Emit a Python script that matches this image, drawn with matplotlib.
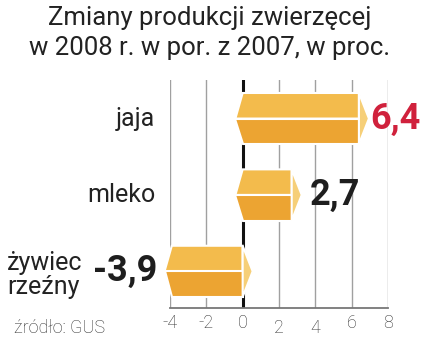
import matplotlib
matplotlib.use("Agg")
import matplotlib.pyplot as plt
from matplotlib.patches import Polygon
from matplotlib.transforms import blended_transform_factory

plt.rcParams["font.family"] = ["Roboto", "DejaVu Sans"]

# Données
kategorie = ["jaja", "mleko", "żywiec\nrzeźny"]
zmiany = [6.4, 2.7, -3.9]
etykiety = ["6,4", "2,7", "-3,9"]
kolory_etykiet = ["#d0213c", "#1e1e1e", "#1e1e1e"]
ticki = [-4, -2, 0, 2, 4, 6, 8]

GORA = "#f3bb4c"
DOL = "#eca432"
CZOLO = "#f6cf78"
SIATKA = "#a0a0a0"
TEKST = "#222222"

W, H = 426, 352
fig = plt.figure(figsize=(W / 100, H / 100), dpi=100, facecolor="white")

# osie w pikselach: x od -4 (170 px) do 8 (388 px), y od 80 do 308 px
x0, x1, y_top, y_bot = 170, 388, 80, 308
ax = fig.add_axes([x0 / W, 1 - y_bot / H, (x1 - x0) / W, (y_bot - y_top) / H])
ax.set_xlim(-4, 8)
ax.set_ylim(2.48, -0.505)
ax.axis("off")

# siatka
for t in ticki:
    if t == 0:
        continue
    ax.plot([t, t], [2.48, -0.505], color=SIATKA, lw=1, zorder=1)
ax.plot([0, 0], [2.48, -0.505], color="#111111", lw=2.2, zorder=1)
ax.plot([-4, 8], [2.48, 2.48], color="#777777", lw=1.3, zorder=1, clip_on=False)

# słupki "pryzmatyczne"
h = 0.335
dl = 0.4
cap = 0.55
for i, v in enumerate(zmiany):
    left, right = min(0, v), max(0, v)
    gora = Polygon([(left - dl, i), (left, i - h), (right, i - h), (right, i)],
                   closed=True, fc=GORA, ec="white", lw=1.5, zorder=3, clip_on=False)
    dol = Polygon([(left - dl, i), (right, i), (right, i + h), (left, i + h)],
                  closed=True, fc=DOL, ec="white", lw=1.5, zorder=3, clip_on=False)
    czolo = Polygon([(right, i - h), (right + cap, i), (right, i + h)],
                    closed=True, fc=CZOLO, ec="white", lw=1.5, zorder=3, clip_on=False)
    for p in (gora, dol, czolo):
        ax.add_patch(p)

# etykiety wartości
ax.text(6.4 + 0.65, 0, etykiety[0], ha="left", va="center", fontsize=26,
        fontweight="bold", color=kolory_etykiet[0])
ax.text(2.7 + 1.0, 1, etykiety[1], ha="left", va="center", fontsize=26,
        fontweight="bold", color=kolory_etykiet[1])
ax.text(-4.7, 2, etykiety[2], ha="right", va="center", fontsize=26,
        fontweight="bold", color=kolory_etykiet[2])

# kategorie
ax.text(-4.8, 0, kategorie[0], ha="right", va="center", fontsize=18, color=TEKST)
ax.text(-4.8, 1, kategorie[1], ha="right", va="center", fontsize=18, color=TEKST)
fig.text(7 / W, 1 - 275 / H, kategorie[2], ha="left", va="center", fontsize=18,
         color=TEKST, linespacing=0.95)

# opisy osi x
tr = blended_transform_factory(ax.transData, fig.transFigure)
for t in ticki:
    y = 323 if t not in (2, 4) else 328
    ax.text(t, 1 - y / H, str(t), transform=tr, ha="center", va="center",
            fontsize=13, color="#333333", fontweight="light")

fig.text(14 / W, 1 - 328 / H, "źródło: GUS", ha="left", va="center",
         fontsize=13, color="#333333", fontweight="light")

# tytuł
fig.text(210 / W, 1 - 18 / H, "Zmiany produkcji zwierzęcej", ha="center",
         va="center", fontsize=18.5, color=TEKST)
fig.text(210 / W, 1 - 48 / H, "w 2008 r. w por. z 2007, w proc.", ha="center",
         va="center", fontsize=18.5, color=TEKST)

fig.savefig("out.png", dpi=100, facecolor="white")
